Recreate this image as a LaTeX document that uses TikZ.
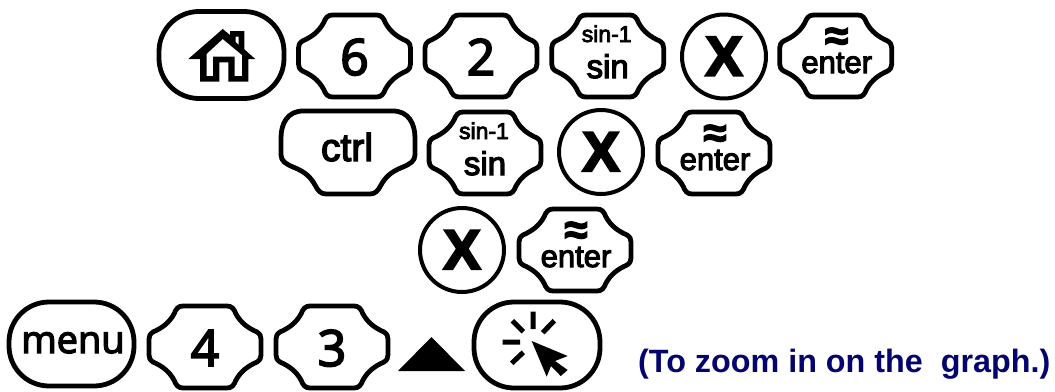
\documentclass[tikz,border=0pt]{standalone}
\usepackage{fontspec}
\setmainfont{Liberation Sans}
\newfontfamily\hv[FakeBold=3.5]{Liberation Sans}
\newfontfamily\hb[FakeBold=4]{Liberation Sans Bold}
\newfontfamily\hbplain{Liberation Sans Bold}
\newfontfamily\os[FakeBold=3.5]{Open Sans}
\definecolor{navytxt}{HTML}{04046E}
\tikzset{
  keyline/.style={line width=4.8pt,line join=round,draw=black},
  hexkey/.pic={\draw[keyline] (-22,-41) -- (22,-41) .. controls (27,-41) and (29,-38) .. (31,-33)
     .. controls (36,-24) and (43,-19) .. (52,-15) .. controls (55,-13) and (56,-11) .. (56,-8)
     -- (56,8) .. controls (56,11) and (55,13) .. (52,15) .. controls (43,19) and (36,24) .. (31,33)
     .. controls (29,38) and (27,41) .. (22,41) -- (-22,41) .. controls (-27,41) and (-29,38) .. (-31,33)
     .. controls (-36,24) and (-43,19) .. (-52,15) .. controls (-55,13) and (-56,11) .. (-56,8)
     -- (-56,-8) .. controls (-56,-11) and (-55,-13) .. (-52,-15) .. controls (-43,-19) and (-36,-24) .. (-31,-33)
     .. controls (-29,-38) and (-27,-41) .. (-22,-41) -- cycle;},
  pill/.style={keyline,rectangle,rounded corners=40pt,inner sep=0pt,text depth=0pt},
  xkey/.style={keyline,circle,line width=4pt,minimum size=84pt,inner sep=0pt},
  digit/.style={anchor=base,inner sep=0pt,font=\fontsize{50}{50}\selectfont\os},
  sinbig/.style={anchor=base,inner sep=0pt,font=\fontsize{33}{33}\selectfont\hv},
  sinsmall/.style={anchor=base,inner sep=0pt,font=\fontsize{23}{23}\selectfont\hv},
  entertxt/.style={anchor=base,inner sep=0pt,font=\fontsize{31}{31}\selectfont\hv},
  approxtxt/.style={inner sep=0pt,font=\fontsize{42}{42}\selectfont\hb},
  xtxt/.style={anchor=base,inner sep=0pt,font=\fontsize{56}{56}\selectfont\hb},
  note/.style={anchor=base west,inner sep=0pt,text=navytxt,font=\fontsize{32.3}{32.3}\selectfont\hbplain},
}
\newcommand{\digitkey}[4]{\pic at (#2,#3) {hexkey};
  \node[digit] (#1) at (#2,#3+19) {#4};}
\newcommand{\sinkey}[3]{\pic at (#2,#3) {hexkey};
  \node[sinbig] (#1) at (#2,#3+22) {sin};
  \node[sinsmall] (#1t) at (#2-1,#3-14) {sin-1};}
\newcommand{\enterkey}[3]{\pic at (#2,#3) {hexkey};
  \node[entertxt] (#1) at (#2+1,#3+17) {enter};
  \node[approxtxt] (#1t) at (#2+1,#3-17) {≈};}
\newcommand{\timeskey}[3]{\node[xkey] (#1) at (#2,#3) {};
  \node[xtxt] (#1t) at (#2,#3+19) {X};}
\begin{document}
\begin{tikzpicture}[x=1pt,y=-1pt]
\useasboundingbox (0,0) rectangle (1055,391);
% row 1
\node[pill,minimum width=125pt,minimum height=87pt] (home) at (221.5,55) {};
\fill[black,even odd rule] (222.7,29) -- (230,35) -- (230,31) -- (244.3,31) -- (244.3,49.3) -- (255.3,59) -- (248.3,59)
  -- (248.3,81.7) -- (228.3,81.7) -- (228.3,62.3) -- (219.3,62.3) -- (219.3,81.7) -- (200,81.7) -- (200,59) -- (188.3,59) -- cycle
  (222.7,39) -- (206.5,54) -- (206.5,76) -- (213,76) -- (213,56.5) -- (234.5,56.5) -- (234.5,76) -- (242,76) -- (242,55) -- cycle
  (235.5,36.5) -- (238.5,36.5) -- (238.5,45) -- (235.5,42) -- cycle;
\digitkey{six}{354.5}{56}{6}
\digitkey{two}{481}{56}{2}
\sinkey{sinA}{607.7}{56}
\timeskey{xA}{724}{56.5}
\enterkey{entA}{835.7}{56}
% row 2
\draw[keyline] (-45+348,-42+153) -- (45+348,-42+153) .. controls (60+348,-42+153) and (67+348,-30+153) .. (67+348,-15+153)
  -- (67+348,2+153) .. controls (67+348,8+153) and (62+348,11+153) .. (55+348,14+153)
  .. controls (42+348,19+153) and (37+348,25+153) .. (33+348,32+153)
  .. controls (30+348,38+153) and (27+348,41+153) .. (22+348,41+153)
  -- (-22+348,41+153) .. controls (-27+348,41+153) and (-30+348,38+153) .. (-33+348,32+153)
  .. controls (-37+348,25+153) and (-42+348,19+153) .. (-55+348,14+153)
  .. controls (-62+348,11+153) and (-67+348,8+153) .. (-67+348,2+153)
  -- (-67+348,-15+153) .. controls (-67+348,-30+153) and (-60+348,-42+153) .. (-45+348,-42+153) -- cycle;
\node[anchor=base,inner sep=0pt,font=\fontsize{39}{39}\selectfont\hv] (ctrl) at (347,161) {ctrl};
\sinkey{sinB}{485}{153}
\timeskey{xB}{601}{152}
\enterkey{entB}{714}{153}
% row 3
\timeskey{xC}{462}{250}
\enterkey{entC}{575}{250}
% row 4
\node[pill,minimum width=125pt,minimum height=84pt] (menubox) at (71.5,344) {};
\node[anchor=base,inner sep=0pt,font=\fontsize{38}{38}\selectfont\os] (menu) at (73,353) {menu};
\digitkey{four}{205}{347}{4}
\digitkey{three}{332}{347}{3}
\fill[black] (398,371) -- (431.5,337) -- (465,371) -- cycle;
\node[pill,minimum width=126pt,minimum height=86pt] (click) at (537,345) {};
\fill[black] (531.7,341) -- (567.7,356) -- (555,361) -- (567.7,370) -- (560.7,376) -- (551,366) -- (546.7,376.7) -- cycle;
\draw[line width=5pt] (533,311.7) -- (533,329)
  (512.3,320.7) -- (523.3,331.7)
  (554.3,320.7) -- (542.7,332.7)
  (502.7,342) -- (520,342)
  (511.7,363.3) -- (523.3,352.3);
\node[note] (note) at (638,372) {(To zoom in on the \ graph.)};
\end{tikzpicture}
\end{document}
